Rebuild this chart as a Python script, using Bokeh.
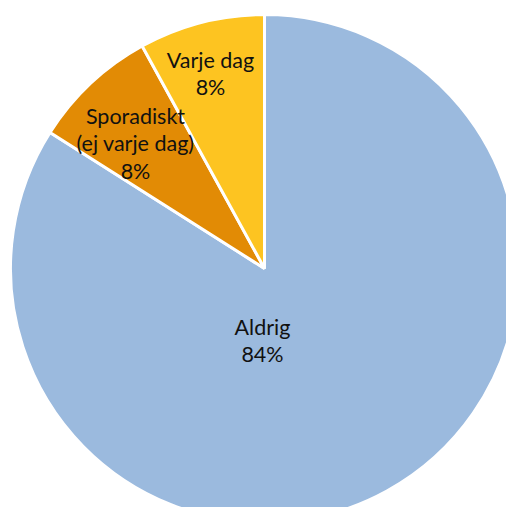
import math
from bokeh.plotting import figure
from bokeh.models import Range1d, ColumnDataSource
from bokeh.core.properties import value
from bokeh.embed import file_html
from bokeh.resources import INLINE

categories = ["Aldrig", "Sporadiskt\n(ej varje dag)", "Varje dag"]
shares = [84, 8, 8]
colors = ["#9BBADE", "#E28B05", "#FDC421"]

R = 254
W, H = 506, 507
cx, cy = 264, 268  # pie centre in figure pixels (from left, from top)

p = figure(width=W, height=H, output_backend="svg", toolbar_location=None,
           x_range=Range1d(-cx, W - cx), y_range=Range1d(-(H - cy), cy),
           min_border=0)
p.axis.visible = False
p.grid.visible = False
p.outline_line_color = None
p.background_fill_color = "white"
p.border_fill_color = "white"

total = sum(shares)
starts, ends = [], []
acc = 0
for s in shares:
    starts.append(math.pi / 2 - acc / total * 2 * math.pi)
    acc += s
    ends.append(math.pi / 2 - acc / total * 2 * math.pi)

src = ColumnDataSource(dict(start=starts, end=ends, color=colors))
p.wedge(x=0, y=0, radius=R, start_angle="start", end_angle="end",
        direction="clock", fill_color="color", line_color="white",
        line_width=3, source=src)

labels = [f"{c}\n{s}%" for c, s in zip(categories, shares)]
# label placement (layout), relative to pie centre in pixels
lx = [-2, -129, -54]
ly = [-72, 125, 195]

p.text(x=lx, y=ly, text=labels, text_align="center", text_baseline="middle",
       text_font=value("Lato"), text_font_size="21.5px", text_color="#111111",
       text_line_height=1.04)

open("out.html", "w").write(file_html(p, INLINE))
